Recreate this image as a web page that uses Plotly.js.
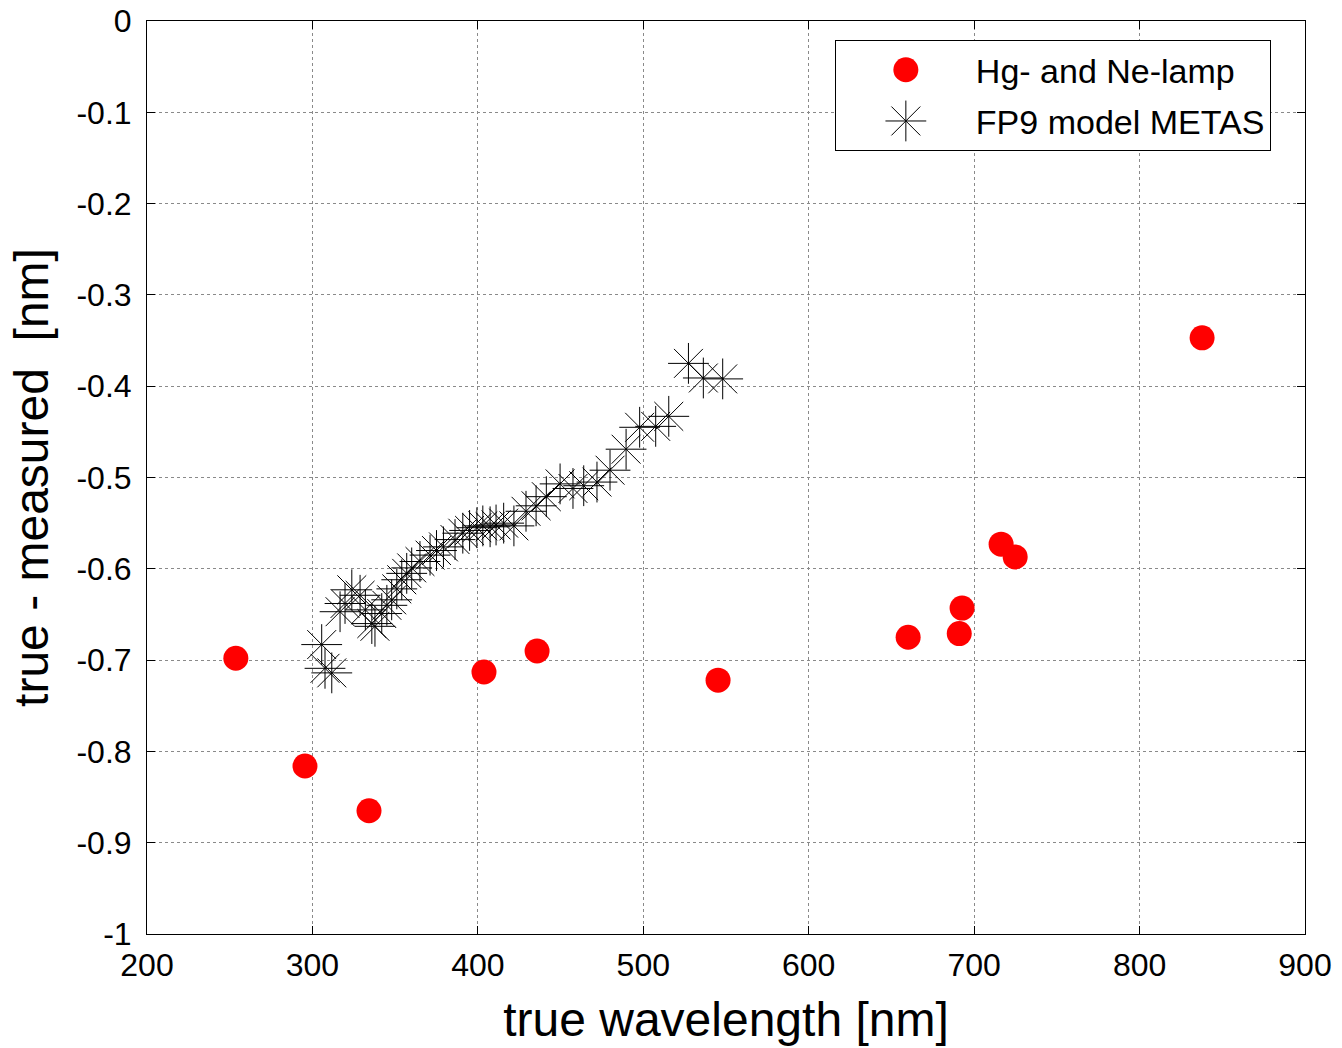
<!DOCTYPE html>
<html>
<head>
<meta charset="utf-8">
<script src="https://cdn.plot.ly/plotly-3.0.1.min.js"></script>
<style>
  html, body { margin: 0; padding: 0; background: #fff; }
  #chart { width: 1342px; height: 1048px; }
</style>
</head>
<body>
<div id="chart"></div>
<script>
// Hg- and Ne-lamp measurements
const lampX = [253.7, 295.5, 334.2, 403.7, 435.8, 545.2, 660.1, 691.0, 692.7, 716.3, 724.8, 837.8];
const lampY = [-0.698, -0.816, -0.865, -0.713, -0.690, -0.722, -0.675, -0.671, -0.643, -0.573, -0.587, -0.347];

// FP9 model METAS
const modelX = [305.6, 307.6, 311.7, 316.7, 319.7, 323.8, 328.8, 332.0, 335.9, 337.8,
                341.9, 345.0, 347.9, 351.0, 354.0, 357.0, 360.0, 365.0, 371.1, 375.0,
                379.2, 386.2, 390.9, 395.0, 399.4, 403.0, 407.4, 411.0, 415.6, 421.8,
                429.1, 435.2, 441.4, 449.7, 457.5, 464.0, 472.0, 479.9, 489.6, 497.8,
                507.5, 515.4, 527.3, 536.3, 548.0];
const modelY = [-0.683, -0.709, -0.714, -0.647, -0.638, -0.623, -0.629, -0.645, -0.660, -0.663,
                -0.649, -0.640, -0.634, -0.622, -0.612, -0.605, -0.599, -0.592, -0.585, -0.580,
                -0.576, -0.568, -0.561, -0.558, -0.555, -0.553, -0.554, -0.552, -0.550, -0.553,
                -0.537, -0.531, -0.521, -0.507, -0.512, -0.509, -0.505, -0.492, -0.469, -0.445,
                -0.444, -0.433, -0.375, -0.391, -0.392];

const xTicks = [200, 300, 400, 500, 600, 700, 800, 900];
const yTickVals = [0, -0.1, -0.2, -0.3, -0.4, -0.5, -0.6, -0.7, -0.8, -0.9, -1];
const yTickText = ['0', '-0.1', '-0.2', '-0.3', '-0.4', '-0.5', '-0.6', '-0.7', '-0.8', '-0.9', '-1'];

const font = 'Liberation Sans, Arial, sans-serif';

const traces = [
  {
    x: lampX, y: lampY, type: 'scatter', mode: 'markers',
    name: 'Hg- and Ne-lamp', legendgroup: 'lamp',
    marker: { color: '#ff0000', size: 25, symbol: 'circle', line: { width: 0 } }
  },
  {
    x: modelX, y: modelY, type: 'scatter', mode: 'markers',
    name: 'FP9 model METAS', legendgroup: 'model',
    marker: { color: '#000000', size: 34, symbol: 'asterisk-open', line: { color: '#000000', width: 1 } }
  }
];

const axisCommon = {
  showline: true, linecolor: '#000', linewidth: 1, mirror: 'ticks',
  ticks: 'inside', ticklen: 8, tickcolor: '#000', tickwidth: 1,
  showgrid: true, gridcolor: '#8a8a8a', griddash: 'dot', gridwidth: 1,
  zeroline: false,
  tickfont: { family: font, size: 32, color: '#000' }
};

const layout = {
  width: 1342, height: 1048,
  margin: { l: 147, r: 37, t: 21, b: 114 },
  paper_bgcolor: '#fff', plot_bgcolor: '#fff',
  font: { family: font, color: '#000' },
  showlegend: true,
  legend: {
    x: 0.594, y: 0.979, xanchor: 'left', yanchor: 'top',
    bgcolor: '#fff', bordercolor: '#000', borderwidth: 1,
    font: { family: font, size: 34, color: '#000' },
    itemsizing: 'trace', itemwidth: 130,
    tracegroupgap: 4
  },
  xaxis: Object.assign({}, axisCommon, {
    range: [200, 900], tickvals: xTicks, ticklabelstandoff: 3,
    title: { text: 'true wavelength [nm]', font: { family: font, size: 48, color: '#000' }, standoff: 19 }
  }),
  yaxis: Object.assign({}, axisCommon, {
    range: [-1, 0], tickvals: yTickVals, ticktext: yTickText, ticklabelstandoff: 8,
    title: { text: 'true - measured  [nm]', font: { family: font, size: 48, color: '#000' }, standoff: 12 }
  })
};

Plotly.newPlot('chart', traces, layout, { staticPlot: true, displayModeBar: false }).then(function (gd) {
  // enlarge legend symbols to match the marker sizes used in the plot
  const groups = gd.querySelectorAll('.legend .traces');
  const scales = [25 / 16, 34 / 16];
  groups.forEach(function (g, i) {
    g.querySelectorAll('.legendpoints path.scatterpts').forEach(function (p) {
      const t = p.getAttribute('transform') || '';
      p.setAttribute('transform', t + ' scale(' + scales[i] + ')');
      p.style.vectorEffect = 'non-scaling-stroke';
    });
  });
});
</script>
</body>
</html>
